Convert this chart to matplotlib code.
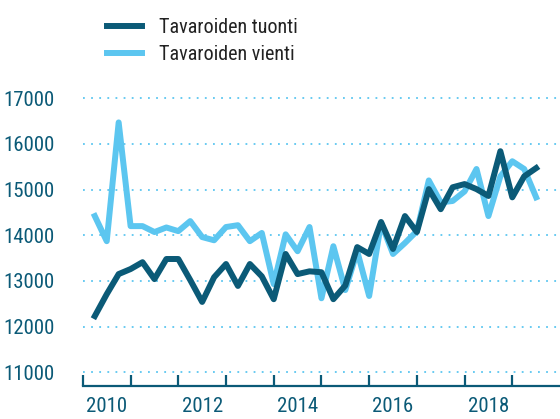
import numpy as np
import matplotlib
matplotlib.use("Agg")
import matplotlib.pyplot as plt
from matplotlib import font_manager

# quarterly values, 2010 Q1 .. 2019 Q2
tuonti = [12230, 12710, 13150, 13260, 13410, 13040, 13480, 13480,
          13020, 12540, 13080, 13370, 12890, 13370, 13100, 12600,
          13590, 13150, 13210, 13190, 12600, 12900, 13740, 13590,
          14290, 13700, 14420, 14070, 15010, 14570, 15050, 15120,
          15010, 14860, 15840, 14830, 15290, 15470]
vienti = [14420, 13870, 16470, 14200, 14200, 14070, 14170, 14090,
          14310, 13960, 13890, 14180, 14220, 13870, 14050, 12930,
          14020, 13650, 14180, 12620, 13760, 12800, 13650, 12670,
          14270, 13590, 13830, 14090, 15200, 14720, 14750, 14960,
          15450, 14420, 15290, 15620, 15450, 14830]
labels = ["Tavaroiden tuonti", "Tavaroiden vienti"]
yticks = [11000, 12000, 13000, 14000, 15000, 16000, 17000]
year_labels = [2010, 2012, 2014, 2016, 2018]

dark = "#0b5a77"
light = "#5cc6f0"

names = {f.name for f in font_manager.fontManager.ttflist}
for fam in ["Liberation Sans Narrow", "Roboto Condensed", "Open Sans Condensed"]:
    if fam in names:
        plt.rcParams["font.family"] = [fam, "DejaVu Sans"]
        break
else:
    plt.rcParams["font.family"] = ["DejaVu Sans"]
    plt.rcParams["font.stretch"] = "condensed"

x = 2010 + 0.25 * (np.arange(len(tuonti)) + 1)

fig = plt.figure(figsize=(5.6, 4.19), dpi=100)
ax = fig.add_axes([0.148, 0.0788, 0.852, 0.7086])

for v in yticks:
    ax.axhline(v, color=light, lw=1.3, ls=(0, (1, 3.5)), zorder=1)

l1, = ax.plot(x, tuonti, color=dark, lw=4.3, solid_joinstyle="round", zorder=3)
l2, = ax.plot(x, vienti, color=light, lw=4.3, solid_joinstyle="round", zorder=2)

ax.set_xlim(2010, 2020)
ax.set_ylim(10700, 17200)
for s in ["top", "right", "left"]:
    ax.spines[s].set_visible(False)
ax.spines["bottom"].set_color(dark)
ax.spines["bottom"].set_linewidth(1.6)

ax.set_yticks(yticks)
ax.set_yticklabels([str(v) for v in yticks])
ax.tick_params(axis="y", length=0, pad=20, labelsize=15, labelcolor=dark)

ax.set_xticks(np.arange(2010, 2020))
ax.set_xticklabels([])
ax.tick_params(axis="x", which="major", direction="in", length=8, width=1.6, color=dark)
ax.set_xticks([y + 0.5 for y in year_labels], minor=True)
ax.set_xticklabels([str(y) for y in year_labels], minor=True)
ax.tick_params(axis="x", which="minor", length=0, pad=8, labelsize=15, labelcolor=dark)

fig.legend([l1, l2], labels, loc="upper left", bbox_to_anchor=(0.158, 1.0),
           frameon=False, fontsize=14.5, handlelength=1.75, handletextpad=0.85,
           labelspacing=0.4, labelcolor="#222222")

fig.savefig("out.png", dpi=100)
